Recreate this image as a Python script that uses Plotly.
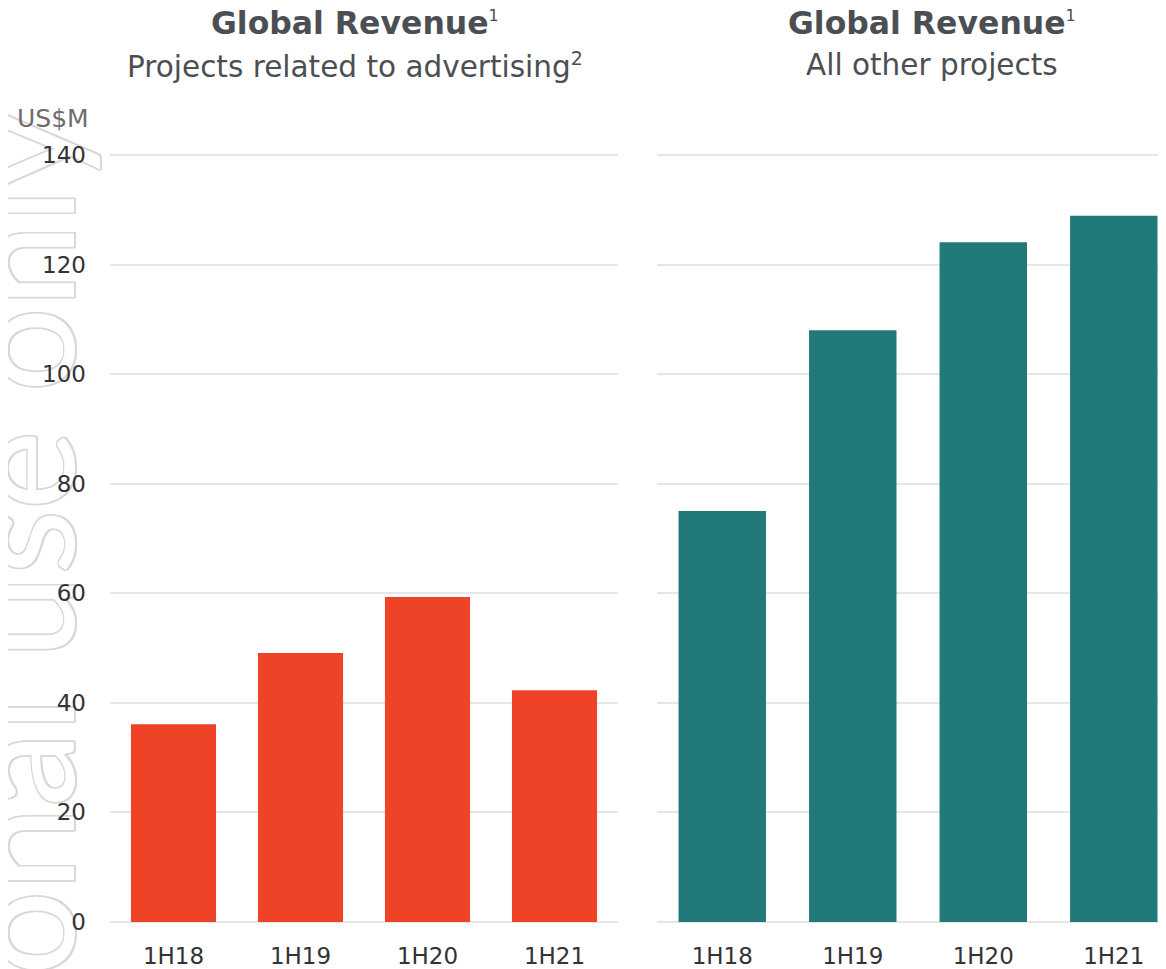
import plotly.graph_objects as go

# the page puts the figure 8px in from the top-left corner of the window
PAD = 8
W, H = 1166 - PAD, 969 - PAD

periods = ["1H18", "1H19", "1H20", "1H21"]
advertising = [36.1, 49.1, 59.3, 42.3]
other_projects = [75.0, 108.0, 124.1, 128.9]
y_ticks = [0, 20, 40, 60, 80, 100, 120, 140]

RED = "#EF4327"
TEAL = "#21797A"
GRID = "#e6e6e6"
FONT = "DejaVu Sans"


def px_x(p):
    # window pixel -> paper fraction
    return (p - PAD) / W


def px_y(p):
    return 1 - (p - PAD) / H


fig = go.Figure()
fig.add_trace(go.Bar(x=periods, y=advertising, marker_color=RED,
                     marker_line_width=0, xaxis="x", yaxis="y"))
fig.add_trace(go.Bar(x=periods, y=other_projects, marker_color=TEAL,
                     marker_line_width=0, xaxis="x2", yaxis="y2"))

axis_common = dict(showline=False, zeroline=False, ticks="", automargin=False,
                   tickfont=dict(family=FONT, size=23, color="#333333"),
                   fixedrange=True)
# small padding so the 0 and 140 grid lines are not dropped at the edges
ydom = [px_y(923.6), px_y(153.4)]
yrange = [-0.3, 140.3]

fig.update_layout(
    width=W, height=H,
    margin=dict(l=0, r=0, t=0, b=0),
    paper_bgcolor="white", plot_bgcolor="white",
    showlegend=False, bargap=0.33,
    font=dict(family=FONT),
    xaxis=dict(domain=[px_x(110), px_x(618)], range=[-0.5, 3.5],
               showgrid=False, ticklabelstandoff=16, **axis_common),
    xaxis2=dict(domain=[px_x(657), 1.0], range=[-0.5, 3.4], anchor="y2",
                showgrid=False, ticklabelstandoff=16, **axis_common),
    yaxis=dict(domain=ydom, range=yrange, tickvals=y_ticks,
               showgrid=True, gridcolor=GRID, gridwidth=2,
               ticklabelstandoff=23, **axis_common),
    yaxis2=dict(domain=ydom, range=yrange, tickvals=y_ticks, anchor="x2",
                showgrid=True, gridcolor=GRID, gridwidth=2,
                showticklabels=False, **axis_common),
)

# watermark, drawn below the axes so tick labels sit on top
outline = ", ".join(f"{dx}px {dy}px 0 #d8d8d8" for dx in (-1.5, 0, 1.5)
                    for dy in (-1.5, 0, 1.5) if dx or dy)
fig.add_shape(type="rect", xref="paper", yref="paper", layer="below",
              x0=px_x(-86), x1=px_x(114), y0=px_y(1527), y1=px_y(95),
              line_width=0, fillcolor="rgba(0,0,0,0)",
              label=dict(text="For personal use only", textangle=-90,
                         textposition="middle center",
                         font=dict(family="Lato", size=150, color="white",
                                   shadow=outline)))

title_font = dict(family=FONT, size=31.5, color="#4b4f54")
sub_font = dict(family=FONT, size=29.5, color="#4b4f54")
sup1 = "<sup><span style='font-size:16px'>1</span></sup>"
sup2 = "<sup><span style='font-size:19px'>2</span></sup>"
titles = [
    (355, "<b>Global Revenue</b>" + sup1, "Projects related to advertising" + sup2),
    (932, "<b>Global Revenue</b>" + sup1, "All other projects"),
]
for cx, t, s in titles:
    fig.add_annotation(x=px_x(cx), y=px_y(23), xref="paper", yref="paper",
                       text=t, showarrow=False, font=title_font,
                       xanchor="center", yanchor="middle")
    fig.add_annotation(x=px_x(cx), y=px_y(65), xref="paper", yref="paper",
                       text=s, showarrow=False, font=sub_font,
                       xanchor="center", yanchor="middle")

fig.add_annotation(x=px_x(91), y=px_y(118), xref="paper", yref="paper",
                   text="US$M", showarrow=False,
                   font=dict(family=FONT, size=25, color="#6e6e6e"),
                   xanchor="right", yanchor="middle")

fig.write_html("out.html")
